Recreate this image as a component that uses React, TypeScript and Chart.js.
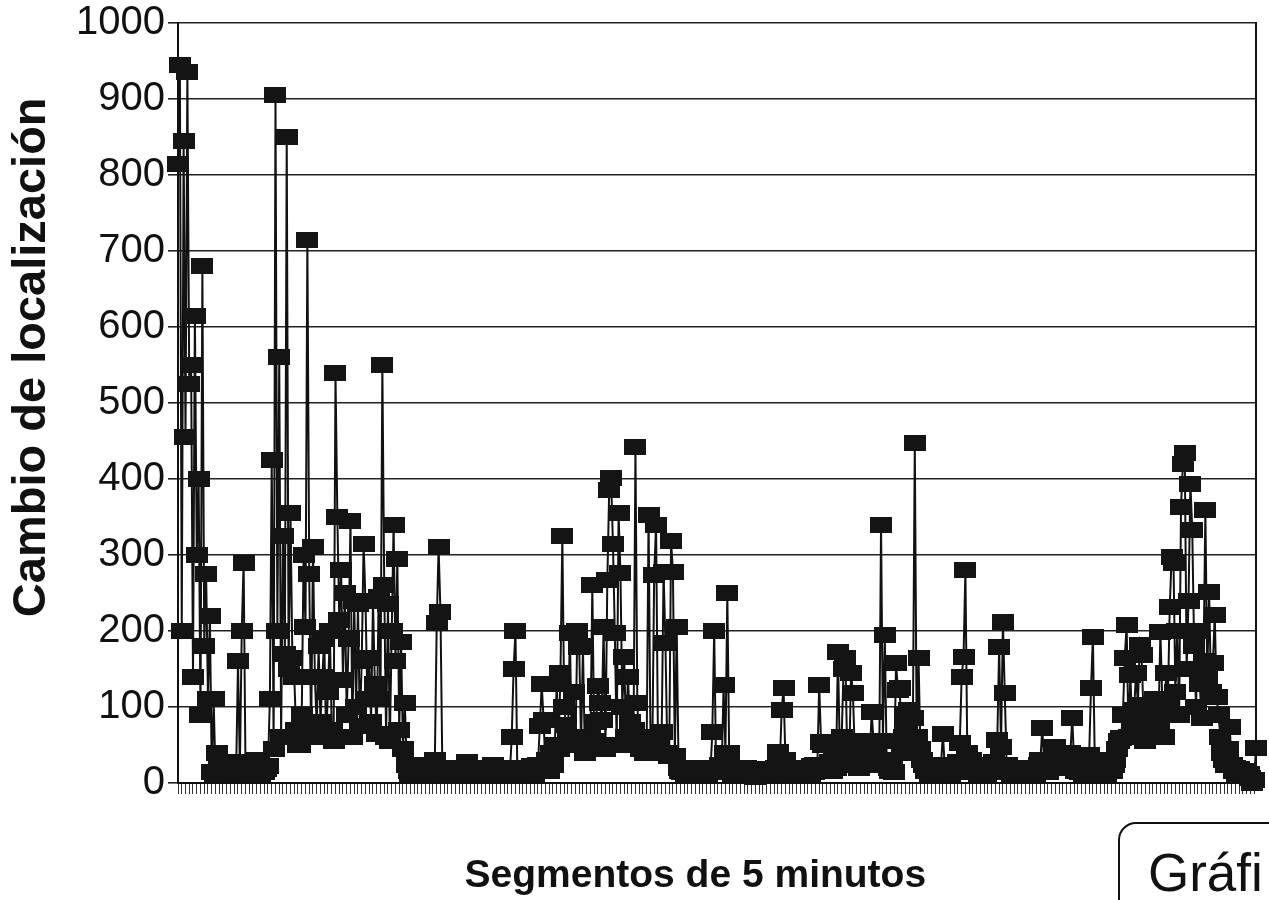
import React, { useEffect, useRef } from 'react';
import { Chart, registerables } from 'chart.js';

Chart.register(...registerables);

// "Cambio de localización" per 5-minute segment, read left to right in blocks
const segA = [815, 945, 200, 845, 455, 935, 525, 550, 140, 615, 300, 400, 90, 680, 180, 275, 110, 220, 15, 110, 12, 40, 18];
const segB = [12, 22, 15, 26, 10, 20, 16, 28, 14];
const segC = [160, 18, 200, 290, 22, 14, 20, 12, 24, 16, 30, 28, 12];
const segD = [16, 14, 18, 22, 110, 425, 45, 905, 200, 560, 60, 325, 170, 850, 150, 355, 165, 140, 70, 50];
const segE = [50, 90, 300, 205, 715, 275, 60, 310, 140, 75, 180, 80, 140, 190, 60, 120, 200, 70, 55];
const segF = [540, 350, 215, 280, 135, 250, 90, 190, 345, 60, 240, 100, 235, 75, 160, 315, 240, 110, 165, 80];
const segG = [240, 130, 65, 245, 110, 550, 260, 60, 235, 55, 200, 340, 160, 295, 70, 185, 45, 105, 24, 16, 12];
const segH = [18, 12, 15, 10, 20, 14, 24, 11, 16, 22, 12, 18];
const segI = [30, 210, 310, 225, 20];
const segJ = [14, 18, 10, 16, 12, 20, 11, 15, 18, 10, 14, 18, 28, 16, 12, 20, 10, 15, 18, 12, 10, 16, 14, 19, 11, 15, 24, 14, 10];
const segK = [16, 12, 18, 10, 15, 20, 12, 60, 150, 200, 16, 12, 18, 10];
const segL = [14, 20, 12, 16, 22, 12, 18, 24, 75, 130, 83, 20, 30, 16, 40, 24];
const segM = [50, 130, 45, 145, 325, 100, 76, 55, 197, 60, 120, 50, 200, 179, 50, 180, 40, 45, 50, 60, 260, 55, 80, 127, 105];
const segN = [83, 205, 45, 267, 385, 401, 315, 197, 50, 355, 276, 100, 166, 60, 140, 80, 50, 70, 442, 105, 50, 45, 60, 40, 55];
const segO = [352, 60, 45, 274, 340, 55, 40, 67, 278, 184, 40, 35, 318, 278, 35, 205, 20, 16];
const segP = [14, 18, 10, 16, 12, 20, 15, 10, 17, 12, 20, 12, 16, 10, 18, 14, 67, 200, 20, 16];
const segQ = [24, 14, 129, 40, 250, 39, 16, 10];
const segR = [18, 12, 15, 10, 16, 12, 20, 10, 14, 17, 12, 8, 15, 18, 10, 14, 16, 10, 12, 19, 12, 15, 20, 41, 25];
const segS = [96, 125, 30, 18, 14, 10, 16, 12, 18];
const segT = [15, 20, 10, 16, 12, 18, 12, 22, 14, 24, 20, 129, 54, 50, 54];
const segU = [24, 18, 28, 16, 30, 20, 172, 40, 60, 150, 164, 30, 24, 145, 118, 40, 28, 20, 55, 30, 55, 24, 54, 35, 93];
const segV = [55, 40, 55, 24, 340, 55, 195, 30, 20, 16, 28, 14, 158, 122, 125, 40, 60, 90, 75, 96, 50, 85, 447, 60, 164];
const segW = [45, 30, 24, 16, 20, 12, 18, 14, 10, 16, 20, 24, 65, 20, 14, 18, 12];
const segX = [16, 24, 14, 28, 52, 140, 166, 280, 40, 24, 30, 18, 14];
const segY = [20, 12, 16, 24, 14, 10, 18, 15, 20, 28, 16, 57, 179, 47, 212, 118, 24, 16, 20, 12, 16];
const segZ = [10, 18, 14, 10, 16, 12, 20, 15, 10, 17, 12, 20, 24, 30, 72, 28, 16, 14, 20, 30, 24, 47, 35, 40, 28, 20, 24, 35, 30];
const segAA = [40, 86, 24, 16, 20, 14, 18, 12, 16, 24, 37, 125, 192, 30, 20, 14, 18, 24, 16, 12, 20, 28, 16, 24, 30];
const segAB = [45, 55, 59, 90, 165, 208, 60, 142, 70, 96, 145, 103, 182, 168, 90, 55, 75, 70, 95, 80, 110, 90, 80, 199, 110, 60, 145, 109, 232, 298];
const segAC = [289, 120, 200, 90, 363, 420, 434, 150, 240, 394, 333, 180, 100, 200, 130, 85, 160, 359, 140, 251, 120, 158, 221, 113, 90, 60, 40, 30, 24, 45];
const segAD = [74, 24, 16, 20, 12, 18, 14, 10, 16, 10, 12, 6, 0, 4, 46];

const changeValues: number[] = [
  ...segA, ...segB, ...segC, ...segD, ...segE, ...segF, ...segG, ...segH, ...segI, ...segJ,
  ...segK, ...segL, ...segM, ...segN, ...segO, ...segP, ...segQ, ...segR, ...segS, ...segT,
  ...segU, ...segV, ...segW, ...segX, ...segY, ...segZ, ...segAA, ...segAB, ...segAC, ...segAD,
];
const segmentLabels: string[] = changeValues.map((_, i) => String(i + 1));

const yMin = 0;
const yMax = 1000;
const yStep = 100;

const yTitle = 'Cambio de localización';
const xTitle = 'Segmentos de 5 minutos';
const boxText = 'Gráfi';

const FONT = "'Liberation Sans', Arial, Helvetica, sans-serif";

export default function App() {
  const canvasRef = useRef<HTMLCanvasElement | null>(null);

  useEffect(() => {
    const marker = document.createElement('canvas');
    marker.width = 22;
    marker.height = 16;
    const mctx = marker.getContext('2d');
    if (mctx) {
      mctx.fillStyle = '#141414';
      mctx.fillRect(0, 0, 22, 16);
    }

    const chart = new Chart(canvasRef.current as HTMLCanvasElement, {
      type: 'line',
      data: {
        labels: segmentLabels,
        datasets: [
          {
            data: changeValues,
            borderColor: '#111',
            borderWidth: 2,
            pointStyle: marker as any,
            pointRadius: 11,
            pointHoverRadius: 11,
            tension: 0,
            fill: false,
            clip: false as any,
          },
        ],
      },
      options: {
        responsive: false,
        animation: false,
        events: [],
        layout: { padding: { top: 23, left: 0, right: 0, bottom: 0 } },
        plugins: { legend: { display: false }, tooltip: { enabled: false } },
        scales: {
          x: {
            type: 'category',
            offset: false,
            ticks: { display: false },
            grid: {
              drawOnChartArea: false,
              drawTicks: true,
              tickLength: 11,
              lineWidth: 1,
              color: (c: any) => (c.index % 2 === 0 ? '#333' : 'rgba(0,0,0,0)'),
            },
            border: { display: true, color: '#111', width: 2 },
            title: {
              display: true,
              text: xTitle + '    ',
              color: '#111',
              font: { family: FONT, size: 39, weight: 'bold', lineHeight: 1.2 },
              padding: { top: 0, bottom: 0 },
            },
            afterFit: (s: any) => {
              s.height = 117;
            },
          },
          y: {
            type: 'linear',
            min: yMin,
            max: yMax,
            ticks: {
              stepSize: yStep,
              color: '#111',
              padding: 3,
              font: { family: FONT, size: 40, lineHeight: 1 },
              callback: (v: any) => String(v),
            },
            grid: { color: '#222', lineWidth: 1.6, tickLength: 10 },
            border: { display: true, color: '#111', width: 2 },
            title: {
              display: true,
              text: '       ' + yTitle,
              color: '#111',
              font: { family: FONT, size: 47, weight: 'bold', lineHeight: 1.2 },
              padding: { top: 4, bottom: 0 },
            },
            afterFit: (s: any) => {
              s.width = 178;
            },
          },
          y1: {
            type: 'linear',
            position: 'right',
            min: yMin,
            max: yMax,
            ticks: { display: false },
            grid: { display: false, drawTicks: false },
            border: { display: true, color: '#111', width: 2 },
            afterFit: (s: any) => {
              s.width = 7;
            },
          },
        },
      } as any,
    });

    return () => chart.destroy();
  }, []);

  return (
    <div
      style={{
        position: 'absolute',
        left: 0,
        top: 0,
        width: 1269,
        height: 900,
        overflow: 'hidden',
        background: '#fff',
      }}
    >
      <canvas ref={canvasRef} width={1269} height={900} style={{ display: 'block' }} />
      <div
        style={{
          position: 'absolute',
          left: 1118,
          top: 822,
          width: 220,
          height: 140,
          boxSizing: 'border-box',
          border: '2px solid #111',
          borderRadius: 18,
          paddingLeft: 28,
          paddingTop: 22,
          fontFamily: FONT,
          fontSize: 53,
          lineHeight: '53px',
          color: '#111',
          whiteSpace: 'nowrap',
        }}
      >
        {boxText}
      </div>
    </div>
  );
}
